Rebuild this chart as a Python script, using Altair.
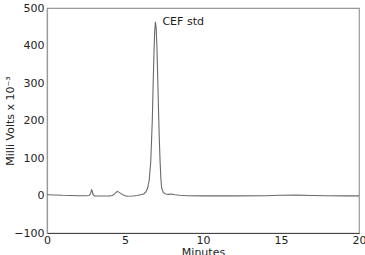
import altair as alt
import pandas as pd

# retention time (minutes) and detector signal (milli volts x 10^-3)
minutes = [0.0, 0.5, 1.0, 1.5, 2.0, 2.5, 2.7, 2.8, 2.85, 2.9, 2.95, 3.05, 3.5, 4.0,
           4.2, 4.35, 4.5, 4.6, 4.75, 4.9, 5.1, 5.5, 5.8, 6.0, 6.2, 6.35, 6.45,
           6.55, 6.65, 6.75, 6.8, 6.85, 6.9, 6.95, 7.0, 7.05, 7.1, 7.15, 7.2,
           7.25, 7.3, 7.35, 7.45, 7.6, 7.8, 8.0, 8.2, 8.5, 9.0, 10.0, 12.0,
           14.0, 15.0, 16.0, 17.0, 18.0, 19.0, 20.0]
signal = [2.0, 1.5, 0.5, 0.0, -0.5, -0.5, 0.0, 5.0, 15.0, 12.0, 3.0, -1.0, -1.5, -1.0,
          0.0, 5.0, 11.0, 9.0, 5.0, 1.0, -2.0, -1.5, 0.0, 2.0, 4.0, 10.0, 20.0,
          40.0, 90.0, 200.0, 290.0, 370.0, 435.0, 463.0, 445.0, 390.0, 310.0, 225.0, 150.0,
          90.0, 45.0, 20.0, 8.0, 4.0, 3.0, 4.0, 2.0, 0.5, -0.5, -1.0, -1.0,
          -0.5, 0.5, 1.0, 0.0, -0.5, -1.0, -1.0]

x_ticks = [0, 5, 10, 15, 20]
y_ticks = [-100, 0, 100, 200, 300, 400, 500]

ann_text = ["CEF std"]
ann_x = [7.4]
ann_y = [462]

df = pd.DataFrame({"Minutes": minutes, "Signal": signal})
ann = pd.DataFrame({"Minutes": ann_x, "Signal": ann_y, "label": ann_text})

FONT = "DejaVu Sans"

xscale = alt.Scale(domain=[0, 20], nice=False, zero=False)
yscale = alt.Scale(domain=[-100, 500], nice=False, zero=False)

xaxis = alt.Axis(values=x_ticks, title="Minutes", format="d",
                 grid=False, domainColor="#444444", domainWidth=1.2,
                 tickSize=0, labelPadding=1, labelFontSize=11,
                 labelFont=FONT, labelColor="#222222",
                 titleFont=FONT, titleFontSize=11, titleFontWeight="normal",
                 titleColor="#222222", titlePadding=1,
                 labelFlush=False, labelOverlap=False)
yaxis = alt.Axis(values=y_ticks, title="Milli Volts x 10⁻³", format="d",
                 grid=False, domainColor="#999999", domainWidth=1.2,
                 tickSize=0, labelPadding=3, labelFontSize=11,
                 labelFont=FONT, labelColor="#222222",
                 titleFont=FONT, titleFontSize=11, titleFontWeight="normal",
                 titleColor="#222222", titlePadding=-2,
                 labelFlush=False, labelOverlap=False)

line = alt.Chart(df).mark_line(color="#6a6a6a", strokeWidth=1.1, clip=True).encode(
    x=alt.X("Minutes:Q", scale=xscale, axis=xaxis),
    y=alt.Y("Signal:Q", scale=yscale, axis=yaxis),
)

text = alt.Chart(ann).mark_text(align="left", baseline="middle", font=FONT,
                                fontSize=11, color="#222222").encode(
    x=alt.X("Minutes:Q", scale=xscale, axis=xaxis),
    y=alt.Y("Signal:Q", scale=yscale, axis=yaxis),
    text="label:N",
)

chart = alt.layer(line, text).properties(
    width=312, height=225,
    autosize=alt.AutoSizeParams(type="none"),
    padding={"left": 47, "top": 8, "right": 6, "bottom": 22},
    background="white",
).configure_view(stroke="#999999", strokeWidth=1.2)

chart.save("out.html", embed_options={"renderer": "svg", "actions": False})
